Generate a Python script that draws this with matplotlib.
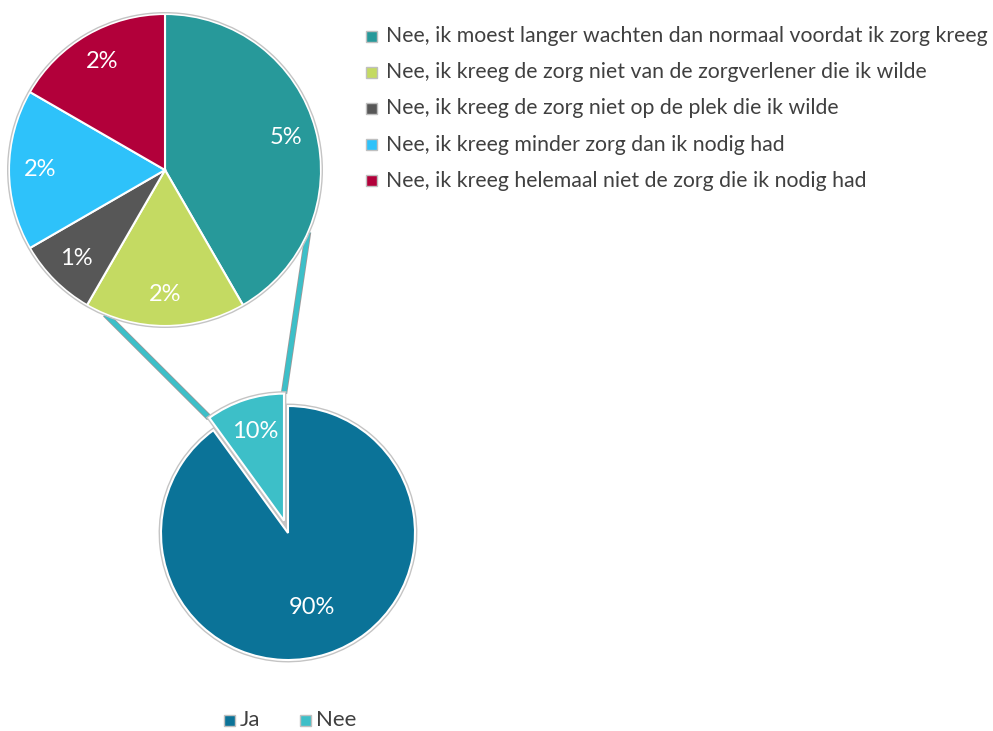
import math
import matplotlib
matplotlib.use("Agg")
import matplotlib.pyplot as plt
import matplotlib.patheffects as pe
from matplotlib.patches import Rectangle, Circle

# uitsplitsing van "Nee" (percentages van alle respondenten)
detail_labels = [
    "Nee, ik moest langer wachten dan normaal voordat ik zorg kreeg",
    "Nee, ik kreeg de zorg niet van de zorgverlener die ik wilde",
    "Nee, ik kreeg de zorg niet op de plek die ik wilde",
    "Nee, ik kreeg minder zorg dan ik nodig had",
    "Nee, ik kreeg helemaal niet de zorg die ik nodig had",
]
detail_values = [5, 2, 1, 2, 2]
detail_colors = ["#27999A", "#C4DA62", "#575757", "#2EC2FA", "#B2003A"]

main_labels = ["Ja", "Nee"]
main_values = [90, 10]
main_colors = ["#0B7398", "#3DBFC8"]

plt.rcParams["font.family"] = ["Lato", "DejaVu Sans"]

W, H = 993, 731
fig = plt.figure(figsize=(W / 100, H / 100), dpi=100)
ax = fig.add_axes([0, 0, 1, 1])

top_c, top_r = (165, H - 170), 156
bot_c, bot_r = (288, H - 533), 127
shift = 13
outline = "#c4c4c4"


def pct_fmt(total):
    return lambda p: f"{p * total / 100:.0f}%"


wedges_t, _, auto_t = ax.pie(
    detail_values, colors=detail_colors, startangle=90, counterclock=False,
    center=top_c, radius=top_r, autopct=pct_fmt(sum(detail_values)),
    pctdistance=0.8, wedgeprops=dict(edgecolor="white", linewidth=1.5),
    textprops=dict(color="white", fontsize=17),
)
ax.add_patch(Circle(top_c, top_r + 1.3, fill=False, ec=outline, lw=1, zorder=3))

wedges_b, _, auto_b = ax.pie(
    main_values, colors=main_colors, startangle=90, counterclock=False,
    center=bot_c, radius=bot_r, explode=[0, shift],
    autopct=pct_fmt(sum(main_values)),
    wedgeprops=dict(edgecolor="white", linewidth=1.5,
                    path_effects=[pe.withStroke(linewidth=3.5, foreground=outline)]),
    textprops=dict(color="white", fontsize=17),
)
# labels op eigen afstand per segment
for w, t, d in zip(wedges_b, auto_b, [0.62, 0.74]):
    a = math.radians((w.theta1 + w.theta2) / 2)
    t.set_position((w.center[0] + d * w.r * math.cos(a), w.center[1] + d * w.r * math.sin(a)))

# verbindingslijnen van het "Nee" segment naar de bovenste taart
nee = wedges_b[1]
for corner, attach in [(nee.theta2, -112.5), (nee.theta1, -23.5)]:
    a = math.radians(corner)
    p0 = (nee.center[0] + nee.r * math.cos(a), nee.center[1] + nee.r * math.sin(a))
    b = math.radians(attach)
    p1 = (top_c[0] + top_r * math.cos(b), top_c[1] + top_r * math.sin(b))
    ax.plot([p0[0], p1[0]], [p0[1], p1[1]], color=main_colors[1], lw=3.2,
            solid_capstyle="butt", zorder=0.5,
            path_effects=[pe.withStroke(linewidth=4.6, foreground="#9a9a9a"), pe.Normal()])

# legenda rechtsboven
for i, (lab, col) in enumerate(zip(detail_labels, detail_colors)):
    y = H - 36 - i * 36.2
    ax.add_patch(Rectangle((366, y - 5.5), 11, 11, fc=col, ec="#bfbfbf", lw=1, zorder=3))
    ax.text(386, y, lab, fontsize=15.3, color="#404040", va="center", ha="left")

# legenda onder
for x, lab, col in zip([224, 300], main_labels, main_colors):
    y = H - 720
    ax.add_patch(Rectangle((x, y - 5.5), 11, 11, fc=col, ec="#bfbfbf", lw=1, zorder=3))
    ax.text(x + 16, y, lab, fontsize=16, color="#404040", va="center", ha="left")

ax.set_xlim(0, W)
ax.set_ylim(0, H)
ax.set_aspect("equal")
ax.set_axis_off()

fig.savefig("out.png", dpi=100)
